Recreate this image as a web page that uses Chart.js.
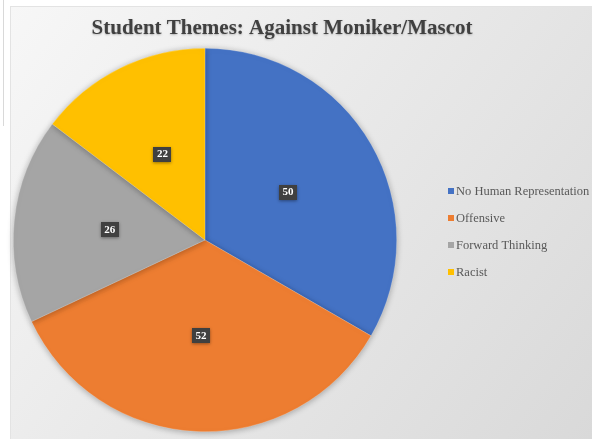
<!DOCTYPE html>
<html>
<head>
<meta charset="utf-8">
<script src="https://cdn.jsdelivr.net/npm/chart.js@4"></script>
<style>
html,body{margin:0;padding:0;background:#fff;}
#wrap{width:592px;height:439px;position:relative;}
</style>
</head>
<body>
<div id="wrap"><canvas id="c" width="592" height="439"></canvas></div>
<script>
const chartTitle = "Student Themes: Against Moniker/Mascot";
const categories = ["No Human Representation", "Offensive", "Forward Thinking", "Racist"];
const values = [50, 52, 26, 22];
const colors = ["#4472C4", "#ED7D31", "#A5A5A5", "#FFC000"];

const backgroundPlugin = {
  id: 'bg',
  beforeDraw(chart) {
    const ctx = chart.ctx;
    ctx.save();
    ctx.fillStyle = '#ffffff';
    ctx.fillRect(0, 0, chart.width, chart.height);
    ctx.fillStyle = '#d9d9d9';
    ctx.fillRect(3, 0, 1, 126);
    const g = ctx.createLinearGradient(10, 6, 592, 439);
    g.addColorStop(0, '#f7f7f7');
    g.addColorStop(0.5, '#e8e8e8');
    g.addColorStop(1, '#d9d9d9');
    ctx.fillStyle = g;
    ctx.fillRect(10, 6, 582, 433);
    ctx.strokeStyle = '#e3e3e3';
    ctx.lineWidth = 1;
    ctx.strokeRect(10.5, 6.5, 582, 434);
    ctx.fillStyle = '#404040';
    ctx.font = 'bold 21px "Liberation Serif", "Times New Roman", serif';
    ctx.textAlign = 'center';
    ctx.textBaseline = 'alphabetic';
    ctx.shadowColor = 'rgba(0,0,0,0.25)';
    ctx.shadowBlur = 2;
    ctx.shadowOffsetY = 1;
    ctx.fillText(chartTitle, 282, 34);
    ctx.restore();
  },
  beforeDatasetsDraw(chart) {
    chart.ctx.save();
    chart.ctx.shadowColor = 'rgba(0,0,0,0.3)';
    chart.ctx.shadowBlur = 6;
    chart.ctx.shadowOffsetY = 1;
  },
  afterDatasetsDraw(chart) {
    chart.ctx.restore();
    const ctx = chart.ctx;
    const meta = chart.getDatasetMeta(0);
    ctx.save();
    ctx.font = 'bold 11px "Liberation Serif", "Times New Roman", serif';
    ctx.textAlign = 'center';
    ctx.textBaseline = 'middle';
    meta.data.forEach((arc, i) => {
      const p = arc.tooltipPosition();
      const w = 18, h = 15;
      ctx.shadowColor = 'rgba(0,0,0,0.4)';
      ctx.shadowBlur = 3;
      ctx.shadowOffsetY = 1;
      ctx.fillStyle = '#404040';
      ctx.fillRect(Math.round(p.x - w / 2), Math.round(p.y - h / 2), w, h);
      ctx.shadowColor = 'transparent';
      ctx.fillStyle = '#ffffff';
      ctx.fillText(String(values[i]), p.x, p.y + 0.5);
    });
    ctx.font = '12.5px "Liberation Serif", "Times New Roman", serif';
    ctx.textAlign = 'left';
    const lx = 448, ly0 = 191, step = 27;
    categories.forEach((c, i) => {
      const y = ly0 + i * step;
      ctx.fillStyle = colors[i];
      ctx.fillRect(lx, y - 3, 6, 6);
      ctx.fillStyle = '#595959';
      ctx.fillText(c, lx + 8, y + 0.5);
    });
    ctx.restore();
  }
};

new Chart(document.getElementById('c'), {
  type: 'pie',
  data: {
    labels: categories,
    datasets: [{
      data: values,
      backgroundColor: colors,
      borderWidth: 0.6,
      borderColor: 'rgba(255,255,255,0.35)'
    }]
  },
  options: {
    responsive: false,
    animation: false,
    devicePixelRatio: 1,
    layout: { padding: { left: 13, right: 195, top: 48, bottom: 7 } },
    plugins: {
      legend: { display: false },
      title: { display: false },
      tooltip: { enabled: false }
    }
  },
  plugins: [backgroundPlugin]
});
</script>
</body>
</html>
